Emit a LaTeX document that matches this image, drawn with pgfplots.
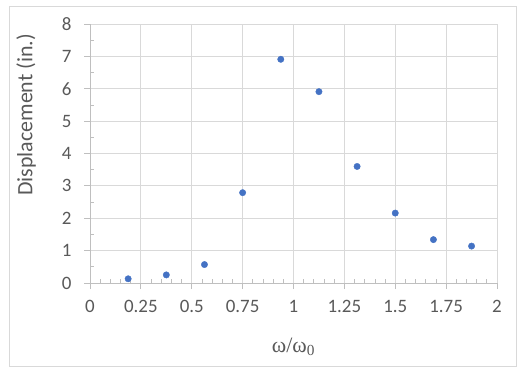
\documentclass[border=0pt]{standalone}
\usepackage{pgfplots}
\pgfplotsset{compat=1.18}
\usepackage{fontspec}
\setmainfont{Carlito}
\newfontfamily\seriffont{Liberation Serif}
\definecolor{txt}{HTML}{595959}
\definecolor{grd}{HTML}{D9D9D9}
\definecolor{axl}{HTML}{BFBFBF}
\definecolor{pt}{HTML}{4472C4}
\begin{document}
\begin{tikzpicture}[x=1bp,y=1bp]
\path[use as bounding box] (0,0) rectangle (525,374);
\draw[grd, line width=1bp] (9,8) rectangle (516,367);
\begin{axis}[
  at={(90bp,91bp)}, anchor=south west,
  scale only axis, width=407bp, height=259bp,
  xmin=0, xmax=2, ymin=0, ymax=8,
  xtick={0,0.25,0.5,0.75,1,1.25,1.5,1.75,2},
  xticklabels={0,0.25,0.5,0.75,1,1.25,1.5,1.75,2},
  ytick={0,1,2,3,4,5,6,7,8},
  minor x tick num=4, minor y tick num=1,
  axis lines*=left,
  axis line style={axl, line width=1bp, -},
  grid=major, major grid style={grd, line width=1bp},
  tick align=outside, major tick length=6bp, minor tick length=4bp,
  tick style={axl, line width=0.8bp},
  minor x tick style={yshift=4bp},
  minor y tick style={xshift=4bp},
  ticklabel style={font=\fontsize{19}{21}\selectfont, text=txt},
  xticklabel style={yshift=-8bp},
  yticklabel style={xshift=-9bp},
  /pgf/number format/assume math mode=true,
  xlabel={\seriffont ω/ω\textsubscript{0}},
  ylabel={Displacement (in.)},
  xlabel style={at={(axis description cs:0.5,-0.247)}, anchor=center, font=\fontsize{22}{24}\selectfont, text=txt},
  ylabel style={at={(axis description cs:-0.157,0.649)}, anchor=center, font=\fontsize{22}{24}\selectfont, text=txt},
]
\addplot[only marks, mark=*, mark size=3.2bp, mark options={draw=pt, fill=pt}] coordinates {
(0.1875,0.13) (0.375,0.25) (0.5625,0.57) (0.75,2.79) (0.9375,6.91)
(1.125,5.91) (1.3125,3.60) (1.5,2.16) (1.6875,1.34) (1.875,1.14)
};
\end{axis}
\end{tikzpicture}
\end{document}
